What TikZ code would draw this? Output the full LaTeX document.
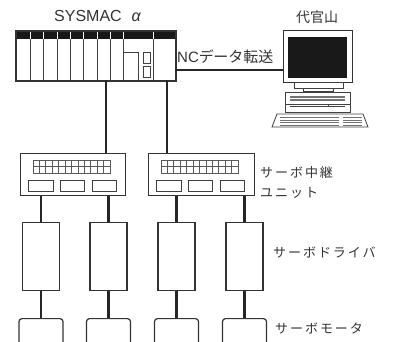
\documentclass[tikz,border=0pt]{standalone}
\usepackage{fontspec}
\setmainfont{Liberation Sans}
\newfontfamily\jp{Noto Sans CJK JP}
\newfontfamily\jpw{Noto Sans CJK JP}[LetterSpace=15]
\begin{document}
\begin{tikzpicture}[x=1pt,y=-1pt,
  outline/.style={draw=black!80, line width=1.2pt, fill=white, inner sep=0pt},
  wire/.style={draw=black!85, line width=2.8pt},
  detail/.style={draw=black!75, line width=0.8pt},
  lbl/.style={text=black!80, inner sep=0pt, anchor=west},
  drv/.style={outline, minimum width=37pt, minimum height=68pt, anchor=north},
  mot/.style={outline, rounded corners=3pt, minimum width=44pt, minimum height=34pt, anchor=north},
  relay/.style={outline, minimum width=105pt, minimum height=42pt, anchor=north west}]
\useasboundingbox (0,0) rectangle (394,341);

% ---------- PLC ----------
\node[outline, minimum width=159pt, minimum height=49pt, anchor=north west] (plc) at (16,31) {};
\fill[black!90] (16,31) rectangle (175,39);
\foreach \x in {30,43,57,70,83,97,110,123,153} {
  \draw[detail] (\x,39) -- (\x,80);
  \draw[white, line width=0.7pt] (\x,31.6) -- (\x,38.6);
}
\draw[detail] (123,52) -- (138,52) -- (138,80);
\draw[detail] (143,52) rectangle (150,63);
\draw[detail] (143,66) rectangle (150,77);
\draw[draw=black!80, line width=1.2pt] (plc.north west) rectangle (plc.south east);
\node[lbl, font=\fontsize{16}{16}\selectfont] (sysmac) at (54,16) {SYSMAC\,\, {\itshape α}};

% ---------- Computer ----------
\node[outline, line width=1.3pt, minimum width=69pt, minimum height=52pt, anchor=north west] (mon) at (283,30) {};
\fill[black!90] (288,37) rectangle (347,78);
\draw[detail] (294,82) rectangle (343,88);
\draw[detail] (303,88) rectangle (333,91);
\draw[detail] (285,92) rectangle (350,112);
\fill[black!55] (290,96.3) rectangle (345,97.8);
\fill[black!55] (290,99) rectangle (345,100.5);
\draw[detail] (285,104) -- (350,104);
\draw[detail] (290,106.5) -- (345,106.5);
\draw[detail] (328,104) -- (328,106.5);
\draw[detail] (277,114) -- (363,114) -- (368,127) -- (272,127) -- cycle;
\foreach \y in {117.5,120,122.5,125} {
  \draw[black!55, line width=0.9pt] (280,\y) -- (339,\y);
  \draw[black!55, line width=0.9pt] (343,\y) -- (362,\y);
}
\node[lbl, anchor=center, font=\jp\fontsize{14}{14}\selectfont] (daikan) at (317,17) {代官山};

% ---------- NC link ----------
\coordinate (nc) at (175,70);
\draw[wire] (nc) -- (nc -| mon.west);
\node[lbl, font=\fontsize{15}{15}\selectfont] (nclbl) at (177,57) {NC{\jp\fontsize{15}{15}\selectfont デ\kern-0.5pt ータ転送}};

% ---------- Relay units ----------
\node[relay] (u1) at (20,153) {};
\node[relay, minimum width=106pt] (u2) at (148,153) {};
\foreach \ox in {0,128} {
  \begin{scope}[shift={(\ox,0)}]
    \draw[black!65, line width=0.7pt] (33,160) rectangle (110,173);
    \draw[black!65, line width=0.7pt] (33,166.5) -- (110,166.5);
    \foreach \i in {1,...,11} \draw[black!65, line width=0.7pt] ({33+\i*77/12},160) -- ({33+\i*77/12},173);
    \draw[detail] (28,180) rectangle (53,191);
    \draw[detail] (60,180) rectangle (84,191);
    \draw[detail] (92,180) rectangle (116,191);
  \end{scope}
}
\coordinate (p1) at (106,80);
\coordinate (p2) at (167,80);
\draw[wire] (p1) -- (p1 |- u1.north);
\draw[wire] (p2) -- (p2 |- u2.north);
\node[lbl, font=\jpw\fontsize{13}{13}\selectfont] (rl1) at (260,173) {サーボ中継};
\node[lbl, font=\jpw\fontsize{13}{13}\selectfont] (rl2) at (260,193) {ユニット};

% ---------- Drivers and motors ----------
\foreach \n/\x/\u in {1/41/u1, 2/108.5/u1, 3/176.5/u2, 4/244.5/u2} {
  \node[drv] (d\n) at (\x,222) {};
  \node[mot] (m\n) at (\x,318) {};
  \draw[wire] (d\n.north) -- (d\n.north |- \u.south);
  \draw[wire] (d\n.south) -- (m\n.north);
}
\node[lbl, font=\jpw\fontsize{13}{13}\selectfont] (dl) at (273,252) {サーボドライバ};
\node[lbl, font=\jpw\fontsize{13}{13}\selectfont] (ml) at (275,328) {サーボモータ};
\end{tikzpicture}
\end{document}
